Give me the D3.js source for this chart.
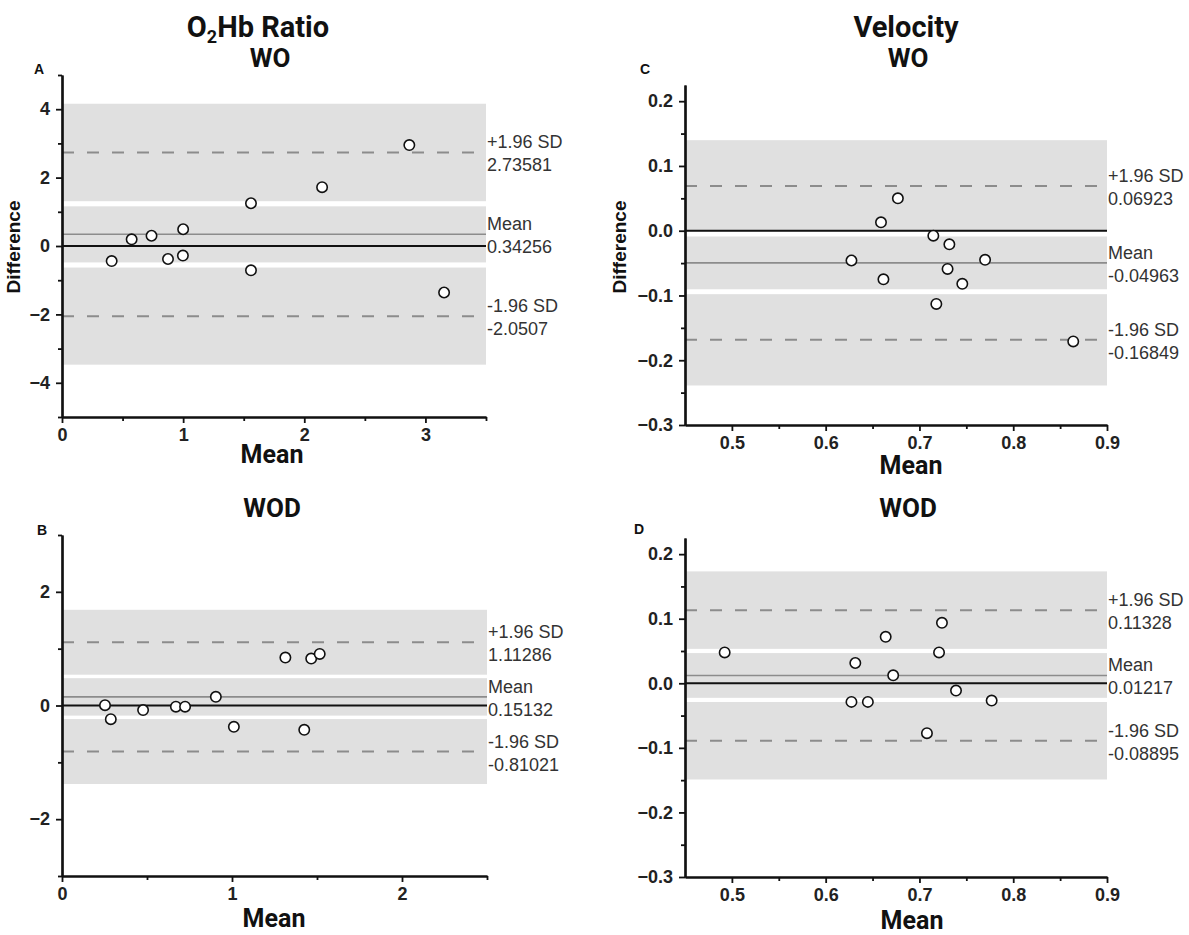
<!DOCTYPE html>
<html><head><meta charset="utf-8">
<script src="https://cdn.jsdelivr.net/npm/d3@7"></script>
<style>body{margin:0;background:#fff}</style>
</head><body><svg id="chart" width="1189" height="935"></svg>
<script>
// ---------- data ----------
const lineNames = ["+1.96 SD", "Mean", "-1.96 SD"];

// Panel A: O2Hb Ratio, WO
const meanA = [0.41, 0.575, 0.739, 0.875, 1.0, 0.998, 1.56, 1.56, 2.147, 2.867, 3.154];
const diffA = [-0.44, 0.196, 0.30, -0.38, 0.49, -0.28, 1.25, -0.71, 1.72, 2.95, -1.36];
const limitsA = [2.73581, 0.34256, -2.0507];
const limitTextA = ["2.73581", "0.34256", "-2.0507"];
const bandsA = [[1.31, 4.16], [-0.48, 1.16], [-3.47, -0.63]];
const xTicksA = [0, 1, 2, 3];
const yTicksA = [-4, -2, 0, 2, 4];

// Panel B: O2Hb Ratio, WOD
const meanB = [0.253, 0.287, 0.477, 0.67, 0.724, 0.905, 1.011, 1.314, 1.466, 1.516, 1.425];
const diffB = [0.006, -0.24, -0.08, -0.02, -0.02, 0.152, -0.375, 0.843, 0.826, 0.908, -0.428];
const limitsB = [1.11286, 0.15132, -0.81021];
const limitTextB = ["1.11286", "0.15132", "-0.81021"];
const bandsB = [[0.542, 1.684], [-0.178, 0.481], [-1.381, -0.239]];
const xTicksB = [0, 1, 2];
const yTicksB = [-2, 0, 2];

// Panel C: Velocity, WO
const meanC = [0.677, 0.659, 0.6275, 0.6616, 0.7148, 0.7319, 0.730, 0.770, 0.7457, 0.718, 0.864];
const diffC = [0.050, 0.013, -0.046, -0.075, -0.0077, -0.021, -0.059, -0.045, -0.082, -0.113, -0.171];
const limitsC = [0.06923, -0.04963, -0.16849];
const limitTextC = ["0.06923", "-0.04963", "-0.16849"];
const bandsC = [[-0.0013, 0.1398], [-0.0904, -0.0089], [-0.2390, -0.0980]];
const xTicksC = [0.5, 0.6, 0.7, 0.8, 0.9];
const yTicksC = [-0.3, -0.2, -0.1, 0.0, 0.1, 0.2];

// Panel D: Velocity, WOD
const meanD = [0.4923, 0.6316, 0.664, 0.672, 0.6275, 0.645, 0.724, 0.7209, 0.739, 0.777, 0.708];
const diffD = [0.0478, 0.0314, 0.072, 0.0123, -0.0288, -0.0288, 0.0936, 0.0478, -0.0113, -0.0267, -0.0772];
const limitsD = [0.11328, 0.01217, -0.08895];
const limitTextD = ["0.11328", "0.01217", "-0.08895"];
const bandsD = [[0.0533, 0.1733], [-0.0225, 0.0468], [-0.149, -0.029]];
const xTicksD = [0.5, 0.6, 0.7, 0.8, 0.9];
const yTicksD = [-0.3, -0.2, -0.1, 0.0, 0.1, 0.2];

// ---------- drawing ----------
const svg = d3.select("#chart");
const MINUS = "\u2212";
const TITLE_FONT = "Roboto, 'Noto Sans', sans-serif";
const ARIAL = "'Liberation Sans', Arial, sans-serif";

function fmtInt(d) { return d < 0 ? MINUS + Math.abs(d) : String(d); }
function fmt1(d) { const s = d3.format(".1f")(Math.abs(d) < 1e-9 ? 0 : d); return s.replace("-", MINUS); }

function panel(cfg) {
  const x = d3.scaleLinear().domain(cfg.xDomain).range(cfg.xRange);
  const y = d3.scaleLinear().domain(cfg.yDomain).range(cfg.yRange);
  const g = svg.append("g");
  const x0 = cfg.xRange[0], x1 = cfg.xRange[1];
  const yb = cfg.yRange[0];

  // bands
  g.selectAll("rect.band").data(cfg.bands).join("rect")
    .attr("x", x0 + 1).attr("width", x1 - x0 - 1)
    .attr("y", d => y(d[1])).attr("height", d => y(d[0]) - y(d[1]))
    .attr("fill", "#e0e0e0");

  // limit lines (dashed for LoA, solid for mean)
  g.selectAll("line.lim").data(cfg.limits).join("line")
    .attr("x1", x0).attr("x2", x1)
    .attr("y1", d => y(d)).attr("y2", d => y(d))
    .attr("stroke", "#8c8c8c")
    .attr("stroke-width", (d, i) => i === 1 ? 1.6 : 2)
    .attr("stroke-dasharray", (d, i) => i === 1 ? null : "12,13");

  // zero line
  g.append("line").attr("x1", x0).attr("x2", x1)
    .attr("y1", y(0)).attr("y2", y(0))
    .attr("stroke", "#111").attr("stroke-width", 2);

  // right labels
  cfg.limits.forEach((v, i) => {
    g.append("text").attr("x", x1 + 1).attr("y", y(v) - 4)
      .style("font-family", ARIAL).style("font-size", "18px").attr("fill", "#333")
      .text(lineNames[i]);
    g.append("text").attr("x", x1 + 1).attr("y", y(v) + 19)
      .style("font-family", ARIAL).style("font-size", "18px").attr("fill", "#333")
      .text(cfg.limitText[i]);
  });

  // points
  g.selectAll("circle.pt").data(cfg.xs.map((v, i) => [v, cfg.ys[i]])).join("circle")
    .attr("cx", d => x(d[0])).attr("cy", d => y(d[1])).attr("r", 5.2)
    .attr("fill", "#fff").attr("stroke", "#111").attr("stroke-width", 1.6);

  // axes
  const ax = g.append("g").attr("transform", `translate(0,${yb})`)
    .call(d3.axisBottom(x).tickValues(cfg.xTicks).tickFormat(cfg.xFmt).tickSize(6).tickPadding(5).tickSizeOuter(0));
  const axm = g.append("g").attr("transform", `translate(0,${yb})`)
    .call(d3.axisBottom(x).tickValues(cfg.xMinor).tickFormat("").tickSize(4).tickSizeOuter(0));
  const ay = g.append("g").attr("transform", `translate(${x0},0)`)
    .call(d3.axisLeft(y).tickValues(cfg.yTicks).tickFormat(cfg.yFmt).tickSize(6).tickPadding(6).tickSizeOuter(0));
  const aym = g.append("g").attr("transform", `translate(${x0},0)`)
    .call(d3.axisLeft(y).tickValues(cfg.yMinor).tickFormat("").tickSize(4).tickSizeOuter(0));
  [ax, axm, ay, aym].forEach(a => {
    a.select(".domain").attr("stroke", "#111").attr("stroke-width", 2.2);
    a.selectAll(".tick line").attr("stroke", "#111").attr("stroke-width", 1.8);
    a.selectAll("text").style("font-family", ARIAL).style("font-weight", "bold")
      .style("font-size", "18px").attr("fill", "#222");
  });

  // panel letter
  g.append("text").attr("x", cfg.letterPos[0]).attr("y", cfg.letterPos[1])
    .style("font-family", ARIAL).style("font-weight", "bold").style("font-size", "14px")
    .attr("fill", "#111").text(cfg.letter);

  // x label
  g.append("text").attr("x", cfg.xLabelPos[0]).attr("y", cfg.xLabelPos[1])
    .attr("text-anchor", "middle").style("font-family", TITLE_FONT).style("font-weight", "bold")
    .style("font-size", "25px").attr("fill", "#111").text("Mean");

  // y label
  if (cfg.yLabel) {
    g.append("text").attr("transform", `translate(${cfg.yLabelPos[0]},${cfg.yLabelPos[1]}) rotate(-90)`)
      .attr("text-anchor", "middle").style("font-family", ARIAL).style("font-weight", "bold")
      .style("font-size", "19px").attr("fill", "#111").text(cfg.yLabel);
  }

  // titles
  cfg.titles.forEach(t => {
    const tx = g.append("text").attr("x", t.x).attr("y", t.y).attr("text-anchor", "middle")
      .style("font-family", TITLE_FONT).style("font-weight", "bold").style("font-size", t.size + "px").attr("fill", "#111");
    if (t.sub) {
      tx.append("tspan").text(t.parts[0]);
      tx.append("tspan").style("font-size", (t.size * 0.62) + "px").attr("dy", 6).text(t.parts[1]);
      tx.append("tspan").attr("dy", -6).text(t.parts[2]);
    } else {
      tx.text(t.text);
    }
  });
}

panel({
  xDomain: [0, 3.5], xRange: [62, 486], yDomain: [-5, 5], yRange: [417, 75],
  xTicks: xTicksA, xMinor: [0.5, 1.5, 2.5, 3.5], yTicks: yTicksA, yMinor: [-5, -3, -1, 1, 3, 5],
  xFmt: fmtInt, yFmt: fmtInt,
  bands: bandsA, limits: limitsA, limitText: limitTextA, xs: meanA, ys: diffA,
  letter: "A", letterPos: [34, 74], xLabelPos: [272, 463], yLabel: "Difference", yLabelPos: [20, 247],
  titles: [{ sub: true, parts: ["O", "2", "Hb Ratio"], x: 258, y: 37, size: 29 }, { text: "WO", x: 270, y: 67, size: 26 }]
});

panel({
  xDomain: [0, 2.5], xRange: [62, 487], yDomain: [-3, 3], yRange: [876, 535],
  xTicks: xTicksB, xMinor: [0.5, 1.5, 2.5], yTicks: yTicksB, yMinor: [-3, -1, 1, 3],
  xFmt: fmtInt, yFmt: fmtInt,
  bands: bandsB, limits: limitsB, limitText: limitTextB, xs: meanB, ys: diffB,
  letter: "B", letterPos: [37, 535], xLabelPos: [274, 927], yLabel: null,
  titles: [{ text: "WOD", x: 272, y: 517, size: 26 }]
});

panel({
  xDomain: [0.45, 0.9], xRange: [685, 1107], yDomain: [-0.3, 0.225], yRange: [425, 85],
  xTicks: xTicksC, xMinor: [0.55, 0.65, 0.75, 0.85], yTicks: yTicksC, yMinor: [-0.25, -0.15, -0.05, 0.05, 0.15],
  xFmt: fmt1, yFmt: fmt1,
  bands: bandsC, limits: limitsC, limitText: limitTextC, xs: meanC, ys: diffC,
  letter: "C", letterPos: [640, 74], xLabelPos: [911, 474], yLabel: "Difference", yLabelPos: [626, 247],
  titles: [{ text: "Velocity", x: 906, y: 37, size: 29 }, { text: "WO", x: 908, y: 67, size: 26 }]
});

panel({
  xDomain: [0.45, 0.9], xRange: [685, 1107], yDomain: [-0.3, 0.225], yRange: [877, 538],
  xTicks: xTicksD, xMinor: [0.55, 0.65, 0.75, 0.85], yTicks: yTicksD, yMinor: [-0.25, -0.15, -0.05, 0.05, 0.15],
  xFmt: fmt1, yFmt: fmt1,
  bands: bandsD, limits: limitsD, limitText: limitTextD, xs: meanD, ys: diffD,
  letter: "D", letterPos: [634, 534], xLabelPos: [912, 929], yLabel: null,
  titles: [{ text: "WOD", x: 908, y: 517, size: 26 }]
});
</script>
</body></html>
